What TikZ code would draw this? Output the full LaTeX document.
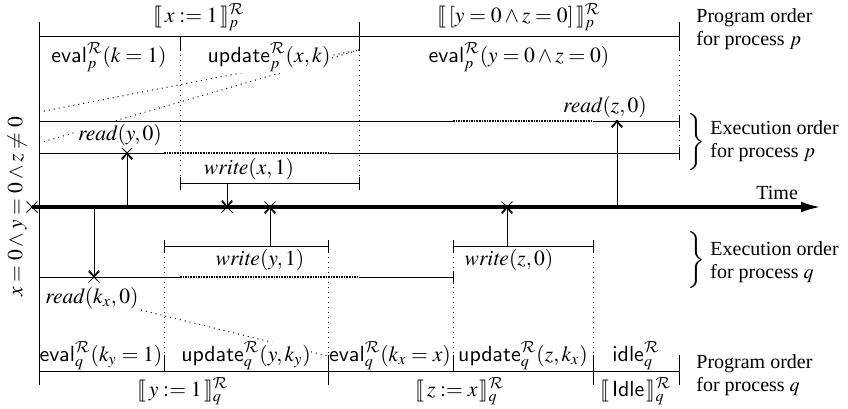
\documentclass[tikz,border=0pt]{standalone}
\usepackage{mathptmx}
\usepackage{stmaryrd}
\usepackage{fontspec}
\setmainfont{Liberation Serif}
\setsansfont{Liberation Sans}
\DeclareMathAlphabet{\mathcal}{OMS}{cmsy}{m}{n}
\usetikzlibrary{arrows.meta, positioning, shapes.misc}

\newcommand{\evalR}[2]{\mathsf{eval}^{\mathcal{R}}_{#1}(#2)}
\newcommand{\updR}[2]{\mathsf{update}^{\mathcal{R}}_{#1}(#2)}
\newcommand{\semR}[2]{\llbracket\, #2 \,\rrbracket^{\mathcal{R}}_{#1}}

\tikzset{
  prog/.style={line width=0.5pt},
  guide/.style={dotted, line width=0.5pt},
  busy/.style={line width=1.2pt, dash pattern=on 0.8pt off 0.5pt},
  timeaxis/.style={line width=1.6pt, -{Latex[length=10pt,width=5.5pt]}},
  evarrow/.style={-{Straight Barb[length=3pt,width=5pt]}, line width=0.5pt},
  evcross/.style={draw, cross out, line width=0.5pt, minimum size=5pt, inner sep=0pt},
  lbl/.style={fill=white, inner sep=1pt},
  side/.style={align=left, anchor=west, inner sep=0pt, font=\fontsize{10}{11.5}\selectfont},
}

\begin{document}
\begin{tikzpicture}[x=0.5pt, y=-0.5pt, font=\fontsize{10.8}{12.4}\selectfont]
  \useasboundingbox (0,0) rectangle (848,408);

  % ---------- program order of p ----------
  \draw[prog] (39,22) -- (39,385);
  \draw[prog] (39,36) -- (679,36);
  \draw[prog] (180,36) -- (180,50);
  \draw[prog] (359,22) -- (359,50);
  \draw[prog] (679,22) -- (679,50);
  \draw[guide] (180,50) -- (180,177);
  \draw[guide] (359,50) -- (359,177);
  \draw[guide] (679,50) -- (679,147);
  \draw[guide] (39,112) -- (359,50);
  \draw[guide] (39,143) -- (359,50);

  \node (sx) at (199,17) {$\semR{p}{x := 1}$};
  \node (syz) at (519,17) {$\semR{p}{[y = 0 \wedge z = 0]}$};
  \node (ek) at (109,57) {$\evalR{p}{k = 1}$};
  \node[lbl] (ux) at (269,57) {$\updR{p}{x, k}$};
  \node (eyz) at (519,57) {$\evalR{p}{y = 0 \wedge z = 0}$};

  % ---------- execution order of p ----------
  \draw[prog] (39,121) -- (453,121);
  \draw[busy] (453,121) -- (593,121);
  \draw[prog] (593,121) -- (679,121);
  \draw[prog] (679,115) -- (679,128);
  \draw[prog] (39,153) -- (164,153);
  \draw[busy] (164,153) -- (328,153);
  \draw[prog] (328,153) -- (679,153);
  \draw[prog] (679,147) -- (679,160);

  % ---------- time axis ----------
  \coordinate (t0) at (32,207);
  \coordinate (t1) at (821,207);
  \draw[timeaxis] (t0) -- (t1);
  \node[evcross] (start) at (t0) {};
  \node[side] (time) at (756,193) {Time};
  \node[rotate=90] (cond) at (17,207) {$x = 0 \wedge y = 0 \wedge z \neq 0$};

  % ---------- writes ----------
  \draw[prog] (180,177) -- (180,190) (180,183) -- (359,183) (359,177) -- (359,190);
  \draw[prog] (164,240) -- (164,252) (164,246) -- (328,246) (328,240) -- (328,252);
  \draw[prog] (453,240) -- (453,252) (453,246) -- (593,246) (593,240) -- (593,252);
  \node[lbl] (lwx) at (249,169) {$\mathit{write}(x, 1)$};
  \node[lbl] (lwy) at (260,260) {$\mathit{write}(y, 1)$};
  \node[lbl] (lwz) at (509,260) {$\mathit{write}(z, 0)$};

  \coordinate (wx0) at (227,183);
  \coordinate (wy0) at (270,246);
  \coordinate (wz0) at (507,246);
  \node[evcross] (wx) at (227,207) {};
  \node[evcross] (wy) at (270,207) {};
  \node[evcross] (wz) at (507,207) {};
  \draw[evarrow] (wx0) -- (wx.center);
  \draw[evarrow] (wy0) -- (wy.center);
  \draw[evarrow] (wz0) -- (wz.center);

  % ---------- reads ----------
  \coordinate (ry0) at (127,207);
  \coordinate (rz0) at (617,207);
  \coordinate (rk0) at (94,207);
  \node[evcross] (ry) at (127,153) {};
  \node[evcross] (rz) at (617,121) {};
  \node[evcross] (rk) at (94,277) {};
  \draw[evarrow] (ry0) -- (ry.center);
  \draw[evarrow] (rz0) -- (rz.center);
  \draw[evarrow] (rk0) -- (rk.center);
  \node[lbl] (lry) at (120,135) {$\mathit{read}(y, 0)$};
  \node[lbl] (lrz) at (605,107) {$\mathit{read}(z, 0)$};

  % ---------- execution order of q ----------
  \draw[prog] (39,277) -- (180,277);
  \draw[busy] (180,277) -- (359,277);
  \draw[prog] (359,277) -- (453,277);
  \draw[prog] (453,271) -- (453,284);
  \draw[guide] (164,252) -- (164,355);
  \draw[guide] (328,252) -- (328,355);
  \draw[guide] (453,252) -- (453,355);
  \draw[guide] (593,252) -- (593,355);
  \draw[guide] (39,285) -- (328,356);
  \node[lbl] (lrk) at (92,298) {$\mathit{read}(k_x, 0)$};

  % ---------- program order of q ----------
  \draw[prog] (39,371) -- (679,371);
  \draw[prog] (164,355) -- (164,371);
  \draw[prog] (328,355) -- (328,385);
  \draw[prog] (453,355) -- (453,371);
  \draw[prog] (593,355) -- (593,385);
  \draw[prog] (679,355) -- (679,385);

  \node (eky) at (101,356) {$\evalR{q}{k_y = 1}$};
  \node[lbl, inner sep=0pt] (uyk) at (246,356) {$\updR{q}{y, k_y}$};
  \node (ekx) at (390,356) {$\evalR{q}{k_x = x}$};
  \node (uzk) at (523,356) {$\updR{q}{z, k_x}$};
  \node (idl) at (636,356) {$\mathsf{idle}^{\mathcal{R}}_{q}$};
  \node (sy1) at (183,391) {$\semR{q}{y := 1}$};
  \node (szx) at (460,391) {$\semR{q}{z := x}$};
  \node (sidl) at (636,391) {$\semR{q}{\mathsf{Idle}}$};

  % ---------- side captions ----------
  \node[side] (pop) at (696,29) {Program order\\for process $p$};
  \node[scale=1.1] (brp) at (696,142) {$\bigg\}$};
  \node[side] (eop) at (710,141) {Execution order\\for process $p$};
  \node[scale=1.1] (brq) at (696,260) {$\bigg\}$};
  \node[side] (eoq) at (710,262) {Execution order\\for process $q$};
  \node[side] (poq) at (696,375) {Program order\\for process $q$};
\end{tikzpicture}
\end{document}
